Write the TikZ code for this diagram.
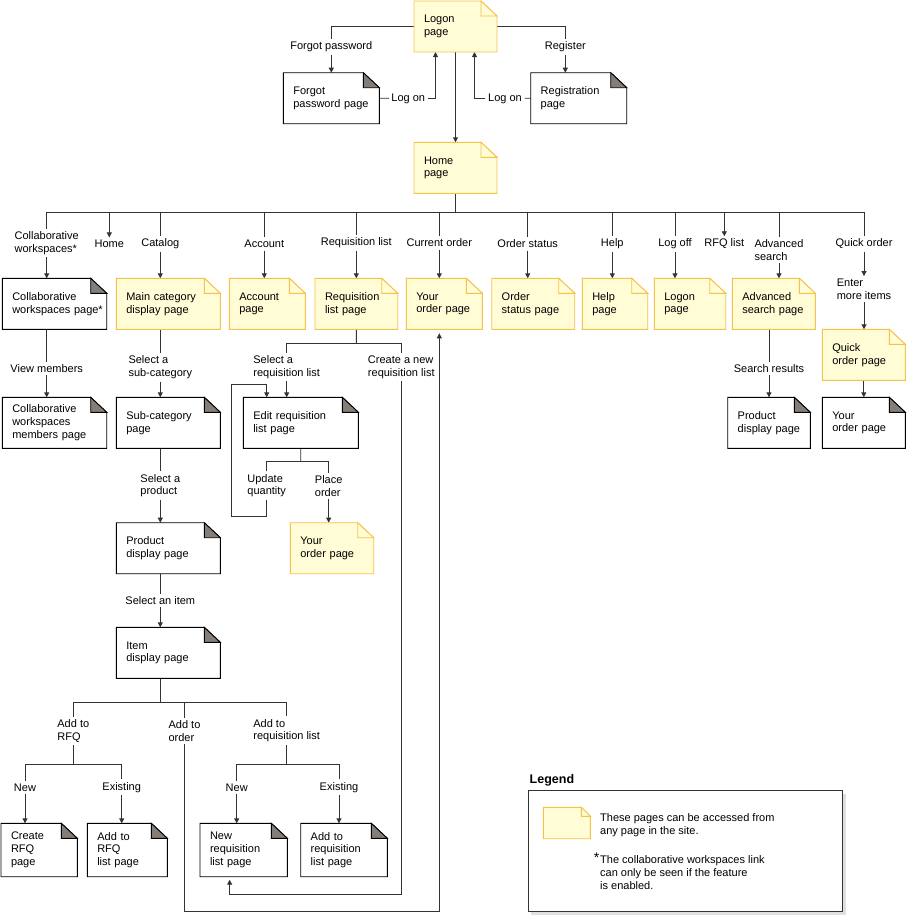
\documentclass[tikz,border=0pt]{standalone}
\usepackage{fontspec}
\setmainfont{Liberation Sans}
\usetikzlibrary{arrows.meta,shadows}
\definecolor{pagefill}{HTML}{FFFCD6}
\definecolor{pageline}{HTML}{F5C24C}
\definecolor{foldgray}{HTML}{857D78}
\definecolor{linkgray}{HTML}{333333}
% outline and folded corner of a page node: #1 node, #2/#3 fold size, #4 y or w
\newcommand{\foldpage}[4]{%
  \fill[white] ([xshift=-#2]#1.north east) -- (#1.north east) -- ([yshift=-#3]#1.north east) -- cycle;
  \draw[#4pageline] (#1.south west) -- (#1.north west) -- ([xshift=-#2]#1.north east) -- ([yshift=-#3]#1.north east) -- (#1.south east) -- cycle;
  \filldraw[#4pagefold] ([xshift=-#2]#1.north east) |- ([yshift=-#3]#1.north east) -- cycle;}

\begin{document}
\begin{tikzpicture}[x=1pt,y=-1pt]
	\tikzset{
		page/.style={rectangle, anchor=north west, outer sep=0pt, inner xsep=10pt, inner ysep=2pt, minimum height=51pt,
			minimum width=#1pt, text width=#1pt-20pt, align=left, font=\fontsize{11}{12.8}\selectfont},
		ypage/.style={page=#1, fill=pagefill},
		wpage/.style={page=#1, fill=white}
	}
	\tikzstyle{ypageline} = [draw=pageline, line width=0.9pt]
	\tikzstyle{ypagefold} = [draw=pageline, fill=pagefill, line width=0.9pt]
	\tikzstyle{wpageline} = [draw=black, line width=0.9pt]
	\tikzstyle{wpagefold} = [draw=black, fill=foldgray, line width=0.9pt]
	\tikzstyle{lbl} = [align=left, inner sep=2.5pt, font=\fontsize{11}{12.8}\selectfont]
	\tikzstyle{link} = [draw=linkgray, line width=0.9pt]
	\tikzstyle{arr} = [link, -{Triangle[length=5pt,width=5pt]}]
	\useasboundingbox (0,0) rectangle (906,916);

	% logon and home
	\node[ypage=83] (logon) at (414,1) {Logon\\page};
	\node[wpage=96] (forgot) at (283.3,72.7) {Forgot\\password page};
	\node[wpage=96] (regist) at (530.7,72.7) {Registration\\page};
	\node[ypage=83] (home) at (414,142.3) {Home\\page};
	\node[lbl] (lforgot) at (331.3,46.7) {Forgot password};
	\node[lbl] (lregister) at (565.3,46.7) {Register};
	\node[lbl] (llogonl) at (408.3,98.5) {Log on};
	\node[lbl] (llogonr) at (505,98.5) {Log on};
	\coordinate (bar) at (455.5,212.3);

	% links from the home page
	\node[lbl] (lcw) at (46.7,243) {Collaborative\\workspaces*};
	\node[lbl] (lhome) at (109.3,244) {Home};
	\node[lbl] (lcatalog) at (160.3,244) {Catalog};
	\node[lbl] (laccount) at (264.3,244) {Account};
	\node[lbl] (lreq) at (356.3,243) {Requisition list};
	\node[lbl] (lcurrent) at (439.3,243) {Current order};
	\node[lbl] (lstatus) at (527.7,244) {Order status};
	\node[lbl] (lhelp) at (612.3,244) {Help};
	\node[lbl] (llogoff) at (675,244) {Log off};
	\node[lbl] (lrfq) at (724.3,244) {RFQ list};
	\node[lbl] (ladv) at (779,250.2) {Advanced\\search};
	\node[lbl] (lquick) at (864,244) {Quick order};
	\node[lbl] (lenter) at (864,289) {Enter\\more items};

	\node[wpage=104.4] (cwpage) at (2.3,278.3) {Collaborative\\workspaces~page*};
	\node[ypage=104] (maincat) at (116.3,278.3) {Main category\\display page};
	\node[ypage=76] (account) at (229.3,278.3) {Account\\page};
	\node[ypage=82.7] (reqlist) at (315,278.3) {Requisition\\list page};
	\node[ypage=76] (yourorder) at (406.3,278.3) {Your\\order page};
	\node[ypage=83] (orderstatus) at (491.7,278.3) {Order\\status page};
	\node[ypage=65.4] (help) at (582.3,278.3) {Help\\page};
	\node[ypage=71.4] (logon2) at (654.3,278.3) {Logon\\page};
	\node[ypage=83] (advsearch) at (732.3,278.3) {Advanced\\search page};
	\node[ypage=83] (quickorder) at (822.3,329.3) {Quick\\order page};

	% second level
	\node[lbl] (lviewmem) at (46.7,368.3) {View members};
	\node[lbl] (lselsub) at (160.3,367.5) {Select a\\sub-category};
	\node[lbl] (lselreq) at (286.7,367.2) {Select a\\requisition list};
	\node[lbl] (lcreate) at (401.3,367.2) {Create a new\\requisition list};
	\node[lbl] (lsearch) at (769,368.3) {Search results};
	\coordinate (reqsplit) at (356.3,343.3);

	\node[wpage=104.4] (cwmembers) at (2.3,397.3) {Collaborative\\workspaces\\members page};
	\node[wpage=104] (subcat) at (116.3,397.3) {Sub-category\\page};
	\node[wpage=115] (editreq) at (243.3,397.3) {Edit requisition\\list page};
	\node[wpage=82.6] (proddisp2) at (727.7,397.3) {Product\\display page};
	\node[wpage=83] (yourorder3) at (822.3,397.3) {Your\\order page};

	% requisition list loop
	\coordinate (editsplit) at (300.7,461.7);
	\coordinate (loopcorner) at (231.7,516.7);
	\coordinate (loopin) at (266.7,384.3);
	\node[lbl] (lupdate) at (266.7,485.7) {Update\\quantity};
	\node[lbl] (lplace) at (328.7,485.7) {Place\\order};
	\node[ypage=83.4] (yourorder2) at (290.3,522.7) {Your\\order page};

	% catalog
	\node[lbl] (lselprod) at (160.3,485.7) {Select a\\product};
	\node[wpage=104] (proddisp) at (116.3,522.7) {Product\\display page};
	\node[lbl] (lselitem) at (160.3,600.3) {Select an item};
	\node[wpage=104] (item) at (116.3,627.3) {Item\\display page};
	\coordinate (itemsplit) at (160.3,702.7);
	\node[lbl] (laddrfq) at (73.3,730.7) {Add to\\RFQ};
	\node[lbl] (laddorder) at (184.5,730.7) {Add to\\order};
	\node[lbl] (laddreq) at (286.7,730.7) {Add to\\requisition list};
	\coordinate (rfqsplit) at (73.3,764.3);
	\coordinate (reqsplit2) at (286.7,764.3);
	\node[lbl] (lnewrfq) at (25,787.3) {New};
	\node[lbl] (lexistrfq) at (121.7,787.3) {Existing};
	\node[lbl] (lnewreq) at (236.7,787.3) {New};
	\node[lbl] (lexistreq) at (339,787.3) {Existing};
	\node[wpage=76.3, minimum height=53.4pt] (createrfq) at (1,823.3) {Create\\RFQ\\page};
	\node[wpage=80, minimum height=53.4pt] (addrfq) at (87.3,823.3) {Add to\\RFQ\\list page};
	\node[wpage=87.3, minimum height=53.4pt] (newreq) at (200,823.3) {New\\requisition\\list page};
	\node[wpage=86.6, minimum height=53.4pt] (addreq) at (300.7,823.3) {Add to\\requisition\\list page};
	\coordinate (orderbot) at (439.3,911.7);

	% legend
	\node[lbl, anchor=west] (legendtitle) at (527,780.7) {\fontsize{12.5}{14}\selectfont\bfseries Legend};
	\node[draw=linkgray, line width=0.9pt, fill=white, anchor=north west, outer sep=0pt, minimum width=314.4pt, minimum height=121pt,
		drop shadow={shadow xshift=3pt, shadow yshift=-3pt, fill=black!12, opacity=1}] (legend) at (528.3,790.7) {};
	\node[ypage=47, minimum height=31.4pt] (legendpage) at (543.3,807.3) {};
	\node[lbl, anchor=west] (legendinfo) at (597.5,824.8) {These pages can be accessed from\\any page in the site.};
	\node[lbl, anchor=north west] (legendnote) at (597.5,853) {The collaborative workspaces link\\can only be seen if the feature\\is enabled.};
	\node[inner sep=0pt, anchor=base east] (legendstar) at (599.5,862.5) {\fontsize{14}{14}\selectfont *};

	% connectors
	\draw[link] (logon.west) -| (lforgot);
	\draw[arr] (lforgot) -- (forgot);
	\draw[link] (logon.east) -| (lregister);
	\draw[arr] (lregister) -- (lregister |- regist.north);
	\draw[link] (forgot.east) -- (llogonl);
	\draw[arr] (llogonl) -| ([xshift=-20pt]logon.south);
	\draw[link] (regist.west) -- (llogonr);
	\draw[arr] (llogonr) -| ([xshift=19pt]logon.south);
	\draw[arr] (logon) -- (home);
	\draw[link] (home) -- (home |- bar);
	\draw[link] (lcw |- bar) -- (lquick |- bar);
	\foreach \l/\p in {lcw/cwpage, lcatalog/maincat, laccount/account, lreq/reqlist, lcurrent/yourorder,
		lstatus/orderstatus, lhelp/help, llogoff/logon2, ladv/advsearch} {
		\draw[link] (\l |- bar) -- (\l);
		\draw[arr] (\l) -- (\l |- \p.north);
	}
	\draw[arr] (lhome |- bar) -- (lhome);
	\draw[arr] (lrfq |- bar) -- (lrfq);
	\draw[link] (lquick |- bar) -- (lquick);
	\draw[arr] (lquick) -- (lenter);
	\draw[arr] (lenter) -- (lenter |- quickorder.north);

	\draw[link] (lviewmem |- cwpage.south) -- (lviewmem);
	\draw[arr] (lviewmem) -- (lviewmem |- cwmembers.north);
	\draw[link] (lselsub |- maincat.south) -- (lselsub);
	\draw[arr] (lselsub) -- (lselsub |- subcat.north);
	\draw[link] (lsearch |- advsearch.south) -- (lsearch);
	\draw[arr] (lsearch) -- (lsearch |- proddisp2.north);
	\draw[arr] (quickorder) -- (yourorder3);

	\draw[link] (reqlist.south) -- (reqsplit);
	\draw[link] (lselreq) |- (reqsplit) -| (lcreate);
	\draw[arr] (lselreq) -- (lselreq |- editreq.north);
	\draw[link] (editreq.south) -- (editsplit);
	\draw[link] (lupdate) |- (editsplit) -| (lplace);
	\draw[arr] (lplace) -- (lplace |- yourorder2.north);
	\draw[arr] (lupdate) |- (loopcorner) |- (loopin) -- (loopin |- editreq.north);

	\draw[link] (lselprod |- subcat.south) -- (lselprod);
	\draw[arr] (lselprod) -- (lselprod |- proddisp.north);
	\draw[link] (lselitem |- proddisp.south) -- (lselitem);
	\draw[arr] (lselitem) -- (lselitem |- item.north);
	\draw[link] (itemsplit |- item.south) -- (itemsplit);
	\draw[link] (laddrfq) |- (itemsplit) -| (laddreq);
	\draw[link] (laddorder |- itemsplit) -- (laddorder);
	\draw[link] (laddrfq) -- (rfqsplit);
	\draw[link] (lnewrfq) |- (rfqsplit) -| (lexistrfq);
	\draw[arr] (lnewrfq) -- (lnewrfq |- createrfq.north);
	\draw[arr] (lexistrfq) -- (lexistrfq |- addrfq.north);
	\draw[link] (laddreq) -- (reqsplit2);
	\draw[link] (lnewreq) |- (reqsplit2) -| (lexistreq);
	\draw[arr] (lnewreq) -- (lnewreq |- newreq.north);
	\draw[arr] (lexistreq) -- (lexistreq |- addreq.north);
	\draw[arr, shorten >=3pt] (lcreate) |- ([xshift=-14pt,yshift=-18pt]newreq.south) -- ([xshift=-14pt]newreq.south);
	\draw[arr, shorten >=4pt] (laddorder) |- (orderbot) -- (orderbot |- yourorder.south);

	% page outlines
	\foreach \p in {logon, home, maincat, account, reqlist, yourorder, orderstatus, help, logon2, advsearch, quickorder, yourorder2}
		{\foldpage{\p}{16pt}{15pt}{y}}
	\foreach \p in {forgot, regist, cwpage, cwmembers, subcat, editreq, proddisp, item, proddisp2, yourorder3, createrfq, addrfq, newreq, addreq}
		{\foldpage{\p}{16pt}{15pt}{w}}
	\foldpage{legendpage}{9pt}{9pt}{y}
\end{tikzpicture}
\end{document}
